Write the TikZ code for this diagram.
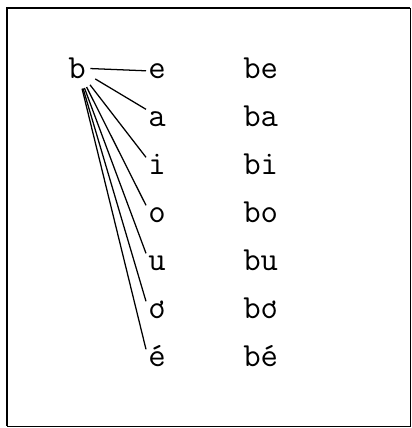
\documentclass[tikz,border=0pt]{standalone}
\usepackage{fontspec}
\tikzset{
  letter/.style={anchor=base west, inner sep=0.05cm, text height=0.36cm, text depth=0cm,
    font=\fontsize{24}{28}\selectfont\ttfamily},
  stem/.style={circle, inner sep=0cm, minimum size=1.05cm,
    font=\fontsize{24}{28}\selectfont\ttfamily},
  link/.style={line width=0.9pt}
}
\begin{document}
\begin{tikzpicture}[x=0.025cm,y=-0.025cm]
\useasboundingbox (0,0) rectangle (412,428);
\draw[line width=1.8pt] (7,426) -- (7,8) -- (410,8);
\draw[line width=0.7pt] (410,8) -- (410,426) -- (7,426);
\node[stem] (b) at (77,68) {b};
\node[letter] (e) at (146,78) {e};
\node[letter] (a) at (146,126) {a};
\node[letter] (i) at (146,174) {i};
\node[letter] (o) at (146,222) {o};
\node[letter] (u) at (146,270) {u};
\node[letter] (oh) at (146,318) {ơ};
\node[letter] (ee) at (146,366) {é};
\node[letter] (be) at (241,78) {be};
\node[letter] (ba) at (241,126) {ba};
\node[letter] (bi) at (241,174) {bi};
\node[letter] (bo) at (241,222) {bo};
\node[letter] (bu) at (241,270) {bu};
\node[letter] (boh) at (241,318) {bơ};
\node[letter] (bee) at (241,366) {bé};
\draw[link, shorten <=-0.2cm] (b) -- (e.west);
\foreach \v in {a,i,o,u,oh,ee}
  \draw[link] (b) -- (\v.north west);
\end{tikzpicture}
\end{document}
